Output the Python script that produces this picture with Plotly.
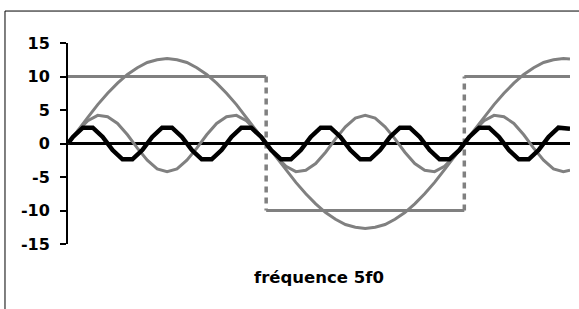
import plotly.graph_objects as go

# phase in degrees of the fundamental
x_deg = [0, 9, 18, 27, 36, 45, 54, 63, 72, 81, 90, 99, 108, 117, 126, 135, 144, 153, 162, 171,
         180, 189, 198, 207, 216, 225, 234, 243, 252, 261, 270, 279, 288, 297, 306, 315, 324, 333,
         342, 351, 360, 369, 378, 387, 396, 405, 414, 423, 432, 441, 450, 456]

fundamental = [0, 2.0, 3.9, 5.8, 7.5, 9.0, 10.3, 11.3, 12.1, 12.5, 12.7,
               12.5, 12.1, 11.3, 10.3, 9.0, 7.5, 5.8, 3.9, 2.0, 0,
               -2.0, -3.9, -5.8, -7.5, -9.0, -10.3, -11.3, -12.1, -12.5, -12.7,
               -12.5, -12.1, -11.3, -10.3, -9.0, -7.5, -5.8, -3.9, -2.0, 0,
               2.0, 3.9, 5.8, 7.5, 9.0, 10.3, 11.3, 12.1, 12.5, 12.7, 12.6]

harmonic3 = [0, 1.9, 3.4, 4.2, 4.0, 3.0, 1.3, -0.7, -2.5, -3.8, -4.2,
             -3.8, -2.5, -0.7, 1.3, 3.0, 4.0, 4.2, 3.4, 1.9, 0,
             -1.9, -3.4, -4.2, -4.0, -3.0, -1.3, 0.7, 2.5, 3.8, 4.2,
             3.8, 2.5, 0.7, -1.3, -3.0, -4.0, -4.2, -3.4, -1.9, 0,
             1.9, 3.4, 4.2, 4.0, 3.0, 1.3, -0.7, -2.5, -3.8, -4.2, -4.0]

x_h5 = [0, 4.5, 13.5, 22.5, 31.5, 40.5, 49.5, 58.5, 67.5, 76.5, 85.5, 94.5, 103.5, 112.5,
        121.5, 130.5, 139.5, 148.5, 157.5, 166.5, 175.5, 184.5, 193.5, 202.5, 211.5, 220.5,
        229.5, 238.5, 247.5, 256.5, 265.5, 274.5, 283.5, 292.5, 301.5, 310.5, 319.5, 328.5,
        337.5, 346.5, 355.5, 364.5, 373.5, 382.5, 391.5, 400.5, 409.5, 418.5, 427.5, 436.5,
        445.5, 454.5, 456]
harmonic5 = [0,
             0.98, 2.36, 2.36, 0.98, -0.98, -2.36, -2.36, -0.98,
             0.98, 2.36, 2.36, 0.98, -0.98, -2.36, -2.36, -0.98,
             0.98, 2.36, 2.36, 0.98, -0.98, -2.36, -2.36, -0.98,
             0.98, 2.36, 2.36, 0.98, -0.98, -2.36, -2.36, -0.98,
             0.98, 2.36, 2.36, 0.98, -0.98, -2.36, -2.36, -0.98,
             0.98, 2.36, 2.36, 0.98, -0.98, -2.36, -2.36, -0.98,
             0.98, 2.36, 2.36, 2.21]

square_x = [0, 180, None, 180, 360, None, 360, 456]
square_y = [10, 10, None, -10, -10, None, 10, 10]
jump_x = [180, 180, None, 360, 360]
jump_y = [10, -10, None, -10, 10]

y_ticks = [15, 10, 5, 0, -5, -10, -15]
y_tick_text = ["15", "10", "5", "0", "-5", "-10", "-15"]
x_title = "fréquence 5f0"

GRAY = "#808080"
font_family = "DejaVu Sans, sans-serif"

fig = go.Figure()
fig.add_trace(go.Scatter(x=jump_x, y=jump_y, mode="lines",
                         line=dict(color=GRAY, width=3.5, dash="6px,5px")))
fig.add_trace(go.Scatter(x=square_x, y=square_y, mode="lines",
                         line=dict(color=GRAY, width=3)))
fig.add_trace(go.Scatter(x=x_deg, y=fundamental, mode="lines",
                         line=dict(color=GRAY, width=3)))
fig.add_trace(go.Scatter(x=x_deg, y=harmonic3, mode="lines",
                         line=dict(color=GRAY, width=3)))
fig.add_trace(go.Scatter(x=x_h5, y=harmonic5, mode="lines",
                         line=dict(color="black", width=4.5)))

fig.update_layout(
    width=579, height=309,
    margin=dict(l=68, r=9, t=43, b=65),
    paper_bgcolor="white", plot_bgcolor="white",
    showlegend=False,
    font=dict(family=font_family, size=16, color="black"),
    xaxis=dict(range=[0, 456], showgrid=False, zeroline=False, showticklabels=False,
               showline=False, ticks=""),
    yaxis=dict(range=[-15, 15], tickvals=y_ticks,
               ticktext=["<b>" + t + "</b>" for t in y_tick_text],
               showgrid=False, zeroline=True, zerolinecolor="black", zerolinewidth=3,
               showline=True, linecolor="black", linewidth=2,
               ticks="outside", ticklen=6, tickwidth=2, tickcolor="black",
               ticklabelstandoff=7,
               tickfont=dict(family=font_family, size=16, color="black")),
    annotations=[dict(text="<b>" + x_title + "</b>", xref="paper", yref="paper",
                      x=0.5, y=-0.169, xanchor="center", yanchor="middle", showarrow=False,
                      font=dict(family=font_family, size=16.5, color="black"))],
    shapes=[dict(type="rect", xref="paper", yref="paper",
                 x0=-0.1255, x1=1.2, y0=-0.6, y1=1.159,
                 line=dict(color="black", width=1), layer="below")],
)

fig.write_html("out.html", config={"displayModeBar": False},
               post_script="document.body.style.margin='0';")
